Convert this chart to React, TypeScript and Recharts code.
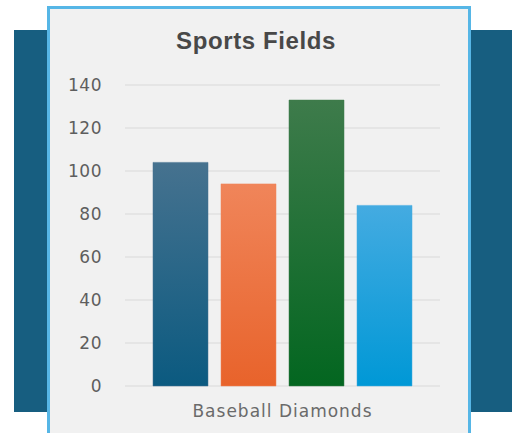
import React from "react";
import { BarChart, Bar, XAxis, YAxis, CartesianGrid } from "recharts";

const categories = ["Baseball Diamonds"];
const seriesNames = ["Field A", "Field B", "Field C", "Field D"];
const seriesValues = [104, 94, 133, 84];
const yTicks = [0, 20, 40, 60, 80, 100, 120, 140];
const gradients = [
  ["#46728f", "#0b5a80"],
  ["#f0855a", "#e8632b"],
  ["#3e7b4b", "#036620"],
  ["#44abe1", "#0098d6"],
];

const data = categories.map((c) => {
  const row: Record<string, string | number> = { name: c };
  seriesNames.forEach((s, i) => {
    row[s] = seriesValues[i];
  });
  return row;
});

export default function App() {
  return (
    <div
      style={{
        position: "absolute",
        left: 0,
        top: 0,
        width: 512,
        height: 433,
        overflow: "hidden",
        background: "#ffffff",
      }}
    >
      <div style={{ position: "absolute", left: 14, top: 30, width: 34, height: 382, background: "#175e80" }} />
      <div style={{ position: "absolute", left: 469, top: 30, width: 43, height: 382, background: "#175e80" }} />
      <div
        style={{
          position: "absolute",
          left: 47,
          top: 6,
          width: 418,
          height: 440,
          background: "#f1f1f1",
          border: "3px solid #56b6e6",
        }}
      />
      <div
        style={{
          position: "absolute",
          left: 0,
          top: 27,
          width: 512,
          textAlign: "center",
          fontFamily: "'Liberation Sans', Arial, sans-serif",
          fontWeight: 700,
          fontSize: 24,
          letterSpacing: 0.6,
          color: "#484848",
        }}
      >
        Sports Fields
      </div>
      <div style={{ position: "absolute", left: 0, top: 0 }}>
        <BarChart
          width={512}
          height={433}
          data={data}
          margin={{ top: 85, right: 72, bottom: 0, left: 65 }}
          barSize={55}
          barGap={13}
        >
          <defs>
            {gradients.map((g, i) => (
              <linearGradient key={i} id={`grad${i}`} x1="0" y1="0" x2="0" y2="1">
                <stop offset="0%" stopColor={g[0]} />
                <stop offset="100%" stopColor={g[1]} />
              </linearGradient>
            ))}
          </defs>
          <CartesianGrid vertical={false} stroke="#d9d9d9" strokeWidth={1} />
          <XAxis
            dataKey="name"
            height={47}
            axisLine={false}
            tickLine={false}
            tickSize={6}
            tickMargin={13}
            tick={{ fill: "#6a6a6a", fontSize: 17, letterSpacing: 1, fontFamily: "'DejaVu Sans', sans-serif" }}
          />
          <YAxis
            width={60}
            domain={[0, 140]}
            ticks={yTicks}
            axisLine={false}
            tickLine={false}
            tickSize={6}
            tickMargin={17}
            tick={{ fill: "#5e5e5e", fontSize: 17, letterSpacing: 0.5, fontFamily: "'DejaVu Sans', sans-serif" }}
          />
          {seriesNames.map((s, i) => (
            <Bar
              key={s}
              dataKey={s}
              fill={`url(#grad${i})`}
              stroke={gradients[i][0]}
              strokeOpacity={0.5}
              isAnimationActive={false}
            />
          ))}
        </BarChart>
      </div>
    </div>
  );
}
